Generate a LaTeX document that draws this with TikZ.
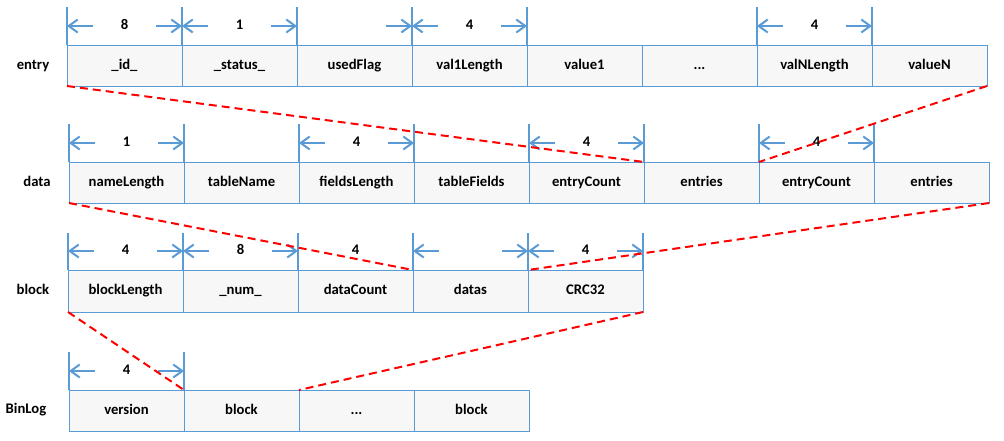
\documentclass[tikz,border=0pt]{standalone}
\usepackage{fontspec}
\setmainfont{Carlito}
\usetikzlibrary{arrows.meta}
\definecolor{cellblue}{HTML}{5B9BD5}
\definecolor{cellfill}{HTML}{F7F7F7}
\newcommand\dimboth[2]{%
  \draw[dimarrow] ([shift={(26,-19)}]#1.north west) -- ([shift={(0,-19)}]#1.north west);
  \draw[dimarrow] ([shift={(-26,-19)}]#1.north east) -- ([shift={(0,-19)}]#1.north east);
  \node[dimlabel] at ([shift={(0,-19)}]#1.north) {#2};}
\newcommand\dimrightonly[1]{%
  \draw[dimarrow] ([shift={(-26,-19)}]#1.north east) -- ([shift={(0,-19)}]#1.north east);}
\newcommand\dimlabelonly[2]{%
  \node[dimlabel] at ([shift={(0,-19)}]#1.north) {#2};}
\begin{document}
\begin{tikzpicture}[x=1pt,y=-1pt,
  font=\bfseries\fontsize{14.67}{17}\selectfont,
  cell/.style={draw=cellblue, line width=1pt, fill=cellfill, minimum width=115pt,
    minimum height=41pt, anchor=north west, inner sep=0pt, outer sep=0pt,
    text height=10pt, text depth=3pt},
  tick/.style={draw=cellblue, line width=2pt},
  dimarrow/.style={draw=cellblue, line width=2pt, -{Straight Barb[length=9pt,width=13pt]}},
  link/.style={draw=red, line width=2pt, dash pattern=on 8pt off 5pt},
  rowlabel/.style={anchor=center, text height=10pt, text depth=3pt},
  dimlabel/.style={anchor=center, text height=10pt, text depth=3pt}]
\useasboundingbox (0,0) rectangle (1004,440);

% ---- entry row
\node[rowlabel] (entrylabel) at (33,66) {entry};
\node[cell] (e1) at (67,45) {\_id\_};
\node[cell] (e2) at (e1.north east) {\_status\_};
\node[cell] (e3) at (e2.north east) {usedFlag};
\node[cell] (e4) at (e3.north east) {val1Length};
\node[cell] (e5) at (e4.north east) {value1};
\node[cell] (e6) at (e5.north east) {...};
\node[cell] (e7) at (e6.north east) {valNLength};
\node[cell] (e8) at (e7.north east) {valueN};

% ---- data row
\node[rowlabel] (datalabel) at (37,183) {data};
\node[cell] (d1) at (69,162) {nameLength};
\node[cell] (d2) at (d1.north east) {tableName};
\node[cell] (d3) at (d2.north east) {fieldsLength};
\node[cell] (d4) at (d3.north east) {tableFields};
\node[cell] (d5) at (d4.north east) {entryCount};
\node[cell] (d6) at (d5.north east) {entries};
\node[cell] (d7) at (d6.north east) {entryCount};
\node[cell] (d8) at (d7.north east) {entries};

% ---- block row
\node[rowlabel] (blocklabel) at (33,291) {block};
\node[cell, minimum height=42pt] (b1) at (68,270) {blockLength};
\node[cell, minimum height=42pt] (b2) at (b1.north east) {\_num\_};
\node[cell, minimum height=42pt] (b3) at (b2.north east) {dataCount};
\node[cell, minimum height=42pt] (b4) at (b3.north east) {datas};
\node[cell, minimum height=42pt] (b5) at (b4.north east) {CRC32};

% ---- BinLog row
\node[rowlabel] (binloglabel) at (26,410) {BinLog};
\node[cell] (l1) at (69,390) {version};
\node[cell] (l2) at (l1.north east) {block};
\node[cell] (l3) at (l2.north east) {...};
\node[cell] (l4) at (l3.north east) {block};

% ---- ticks
\foreach \c in {e1,e2,e3,e4,e7}{\draw[tick] (\c.north west) -- ++(0,-38);}
\foreach \c in {e4,e7}{\draw[tick] (\c.north east) -- ++(0,-38);}
\foreach \c in {d1,d3,d5,d7}{\draw[tick] (\c.north west) -- ++(0,-38);
  \draw[tick] (\c.north east) -- ++(0,-38);}
\foreach \c in {b1,b2,b3,b4,b5}{\draw[tick] (\c.north west) -- ++(0,-37);}
\draw[tick] (b5.north east) -- ++(0,-37);
\draw[tick] (l1.north west) -- ++(0,-38);
\draw[tick] (l1.north east) -- ++(0,-38);

% ---- dimension arrows
\dimboth{e1}{8}
\dimboth{e2}{1}
\dimrightonly{e3}
\dimboth{e4}{4}
\dimboth{e7}{4}
\dimboth{d1}{1}
\dimboth{d3}{4}
\dimboth{d5}{4}
\dimboth{d7}{4}
\dimboth{b1}{4}
\dimboth{b2}{8}
\dimlabelonly{b3}{4}
\dimboth{b4}{}
\dimboth{b5}{4}
\dimboth{l1}{4}

% ---- red dashed links
\draw[link] (e1.south west) -- (d6.north west);
\draw[link] (e8.south east) -- (d7.north west);
\draw[link] (d1.south west) -- (b4.north west);
\draw[link] (d8.south east) -- (b5.north west);
\draw[link] (b1.south west) -- (l2.north west);
\draw[link] (b5.south east) -- (l3.north west);
\end{tikzpicture}
\end{document}
